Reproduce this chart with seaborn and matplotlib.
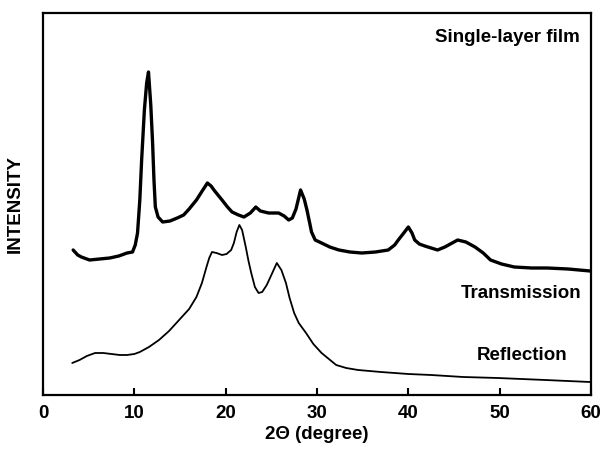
import matplotlib
matplotlib.use("Agg")
import matplotlib.pyplot as plt
import seaborn as sns
import pandas as pd

# Transmission (single-layer film, upper trace)
trans_x = [3.3, 3.8, 4.2, 5.1, 6.2, 7.3, 8.3, 9.2, 9.8, 10.1, 10.35, 10.6, 10.8, 11.1,
           11.35, 11.55, 11.8, 12.0, 12.15, 12.3, 12.6, 13.1, 13.9, 14.7, 15.4, 16.0,
           16.8, 17.5, 18.0, 18.4, 18.8, 19.6, 20.2, 20.7, 21.4, 22.0, 22.7, 23.3, 23.8,
           24.7, 25.8, 26.4, 26.9, 27.3, 27.7, 28.2, 28.6, 28.9, 29.2, 29.4, 29.8, 30.5,
           31.4, 32.4, 33.6, 34.9, 36.4, 37.8, 38.5, 38.9, 39.5, 40.0, 40.4, 40.7, 41.2,
           41.8, 43.2, 44.0, 44.8, 45.4, 46.3, 47.3, 48.2, 49.0, 50.2, 51.6, 53.5, 55.2,
           57.5, 59.9]
trans_y = [145, 140, 138, 135, 136, 137, 139, 142, 143, 150, 162, 195, 235, 285,
           312, 323, 290, 252, 215, 188, 178, 173, 174, 177, 180, 186,
           195, 205, 212, 209, 204, 195, 188, 183, 180, 178, 182, 188, 184,
           182, 182, 179, 175, 177, 186, 205, 196, 185, 172, 163, 155, 152,
           148, 145, 143, 142, 143, 145, 150, 155, 162, 168, 162, 155, 151,
           149, 145, 148, 152, 155, 153, 148, 142, 135, 131, 128, 127, 127,
           126, 124]

# Reflection (lower trace)
refl_x = [3.2, 4.0, 4.8, 5.7, 6.6, 7.5, 8.4, 9.2, 10.0, 10.6, 11.6, 12.7, 13.8, 14.9,
          16.0, 16.8, 17.4, 17.9, 18.2, 18.5, 19.0, 19.6, 20.1, 20.6, 20.9, 21.2, 21.5,
          21.8, 22.2, 22.5, 22.8, 23.2, 23.6, 24.0, 24.5, 25.1, 25.6, 26.1, 26.6, 27.0,
          27.5, 28.0, 28.8, 29.6, 30.5, 31.3, 32.1, 33.2, 34.5, 37.0, 40.0, 42.5, 46.0,
          49.8, 55.0, 59.9]
refl_y = [32, 35, 39, 42, 42, 41, 40, 40, 41, 43, 48, 55, 64, 75,
          86, 98, 112, 128, 137, 143, 142, 140, 141, 145, 152, 163, 170,
          165, 148, 134, 122, 108, 102, 103, 110, 122, 132, 125, 112, 97,
          82, 72, 62, 51, 42, 36, 30, 27, 25, 23, 21, 20, 18,
          17, 15, 13]

x_ticks = [0, 10, 20, 30, 40, 50, 60]
trace_labels = ["Single-layer film", "Transmission", "Reflection"]

df_t = pd.DataFrame({"x": trans_x, "y": trans_y})
df_r = pd.DataFrame({"x": refl_x, "y": refl_y})

sns.set_style("white")
plt.rcParams["font.family"] = ["Liberation Sans", "DejaVu Sans"]
plt.rcParams["font.weight"] = "bold"
plt.rcParams["text.color"] = "black"
plt.rcParams["axes.labelcolor"] = "black"
plt.rcParams["xtick.color"] = "black"
plt.rcParams["ytick.color"] = "black"

fig = plt.figure(figsize=(6, 4.5), dpi=100)
ax = fig.add_axes([43 / 600, 55 / 450, 548 / 600, 382 / 450])

sns.lineplot(data=df_t, x="x", y="y", ax=ax, color="black", lw=2.4, sort=False,
             estimator=None)
sns.lineplot(data=df_r, x="x", y="y", ax=ax, color="black", lw=1.3, sort=False,
             estimator=None)

ax.set_xlim(0, 60)
ax.set_ylim(0, 382)
ax.set_xticks(x_ticks)
ax.set_xticklabels([str(t) for t in x_ticks], fontsize=13.5, fontweight="bold",
                   color="black")
ax.set_yticks([])
ax.tick_params(axis="x", direction="in", length=5, width=1.5, pad=7, bottom=True,
               colors="black")
for s in ax.spines.values():
    s.set_linewidth(1.6)
    s.set_color("black")

ax.set_xlabel("2Θ (degree)", fontsize=13.5, fontweight="bold", labelpad=3,
              color="black")
ax.set_ylabel("INTENSITY", fontsize=13.5, fontweight="bold", labelpad=14,
              color="black")

ax.text(58.8, 357, trace_labels[0], ha="right", va="center", fontsize=13.5,
        fontweight="bold", color="black")
ax.text(58.9, 101, trace_labels[1], ha="right", va="center", fontsize=13.5,
        fontweight="bold", color="black")
ax.text(57.4, 40, trace_labels[2], ha="right", va="center", fontsize=13.5,
        fontweight="bold", color="black")

fig.savefig("out.png", dpi=100)
